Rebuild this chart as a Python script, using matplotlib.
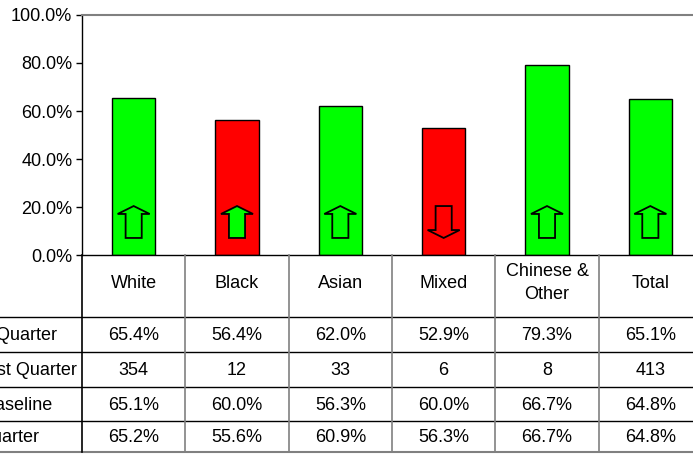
import matplotlib
matplotlib.use('Agg')
import matplotlib.pyplot as plt
from matplotlib.patches import Polygon
from matplotlib.ticker import PercentFormatter

plt.rcParams['font.family'] = ['Liberation Sans', 'DejaVu Sans']
plt.rcParams['font.size'] = 13

groups = ['White', 'Black', 'Asian', 'Mixed', 'Chinese &\nOther', 'Total']
this_quarter = [65.4, 56.4, 62.0, 52.9, 79.3, 65.1]
cohort_last_quarter = [354, 12, 33, 6, 8, 413]
baseline = [65.1, 60.0, 56.3, 60.0, 66.7, 64.8]
last_quarter = [65.2, 55.6, 60.9, 56.3, 66.7, 64.8]
row_labels = ['This Quarter', 'Cohort Last Quarter', 'Baseline', 'Last Quarter']

GREEN = '#00ff00'
RED = '#ff0000'
W, H = 693, 454
x = list(range(len(groups)))

fig = plt.figure(figsize=(W / 100, H / 100), dpi=100)
ax = fig.add_axes([82 / W, (H - 255) / H, 620 / W, 240 / H])

bar_colors = [GREEN if t >= b else RED for t, b in zip(this_quarter, baseline)]
ax.bar(x, [v / 100 for v in this_quarter], width=0.42, color=bar_colors,
       edgecolor='black', linewidth=1.0, zorder=2)

# arrows: up if better than last quarter
for xi, t, lq in zip(x, this_quarter, last_quarter):
    sw, hw = 0.078, 0.155
    if t >= lq:
        pts = [(xi - sw, 0.071), (xi - sw, 0.171), (xi - hw, 0.171), (xi, 0.204),
               (xi + hw, 0.171), (xi + sw, 0.171), (xi + sw, 0.071)]
        fc = GREEN
    else:
        pts = [(xi - sw, 0.204), (xi - sw, 0.104), (xi - hw, 0.104), (xi, 0.071),
               (xi + hw, 0.104), (xi + sw, 0.104), (xi + sw, 0.204)]
        fc = RED
    ax.add_patch(Polygon(pts, closed=True, facecolor=fc, edgecolor='black',
                         linewidth=1.3, zorder=3))

ax.set_xlim(-0.5, len(groups) - 0.5)
ax.set_ylim(0, 1)
ax.set_yticks([0, 0.2, 0.4, 0.6, 0.8, 1.0])
ax.yaxis.set_major_formatter(PercentFormatter(1, decimals=1))
ax.set_xticks([])
ax.tick_params(axis='y', length=4, width=1, pad=3)
ax.spines['top'].set_color('#808080')
ax.spines['top'].set_linewidth(1.5)
ax.spines['right'].set_visible(False)
ax.spines['left'].set_linewidth(1.0)
ax.spines['bottom'].set_linewidth(1.0)

# data table under the bars
tab = fig.add_axes([82 / W, 0, 620 / W, 199 / H])
tab.set_xlim(-0.5, len(groups) - 0.5)
tab.set_ylim(199, 0)
tab.axis('off')

row_edges = [0, 62, 97, 132, 166, 197]
unit = 620 / len(groups)
left_x = -0.5 - 82 / unit
for y in row_edges[1:-1]:
    tab.plot([left_x, len(groups) - 0.5], [y, y], color='black', lw=1.0, clip_on=False)
tab.plot([left_x, len(groups) - 0.5], [row_edges[-1]] * 2, color='#808080', lw=1.5,
         clip_on=False)
for i in range(len(groups) + 1):
    tab.plot([i - 0.5, i - 0.5], [0, row_edges[-1]],
             color='black' if i == 0 else '#808080', lw=1.2, clip_on=False)

for xi, g in zip(x, groups):
    tab.text(xi, 28, g, ha='center', va='center', linespacing=1.5)

rows = [[f'{v:.1f}%' for v in this_quarter],
        [str(v) for v in cohort_last_quarter],
        [f'{v:.1f}%' for v in baseline],
        [f'{v:.1f}%' for v in last_quarter]]
label_ends = [57, 77, 53, 39]
for r, vals in enumerate(rows):
    yc = (row_edges[r + 1] + row_edges[r + 2]) / 2 + 1
    for xi, v in zip(x, vals):
        tab.text(xi, yc, v, ha='center', va='center')
    fig.text(label_ends[r] / W, 1 - (255 + yc) / H, row_labels[r],
             ha='right', va='center')

fig.savefig('out.png', dpi=100)
